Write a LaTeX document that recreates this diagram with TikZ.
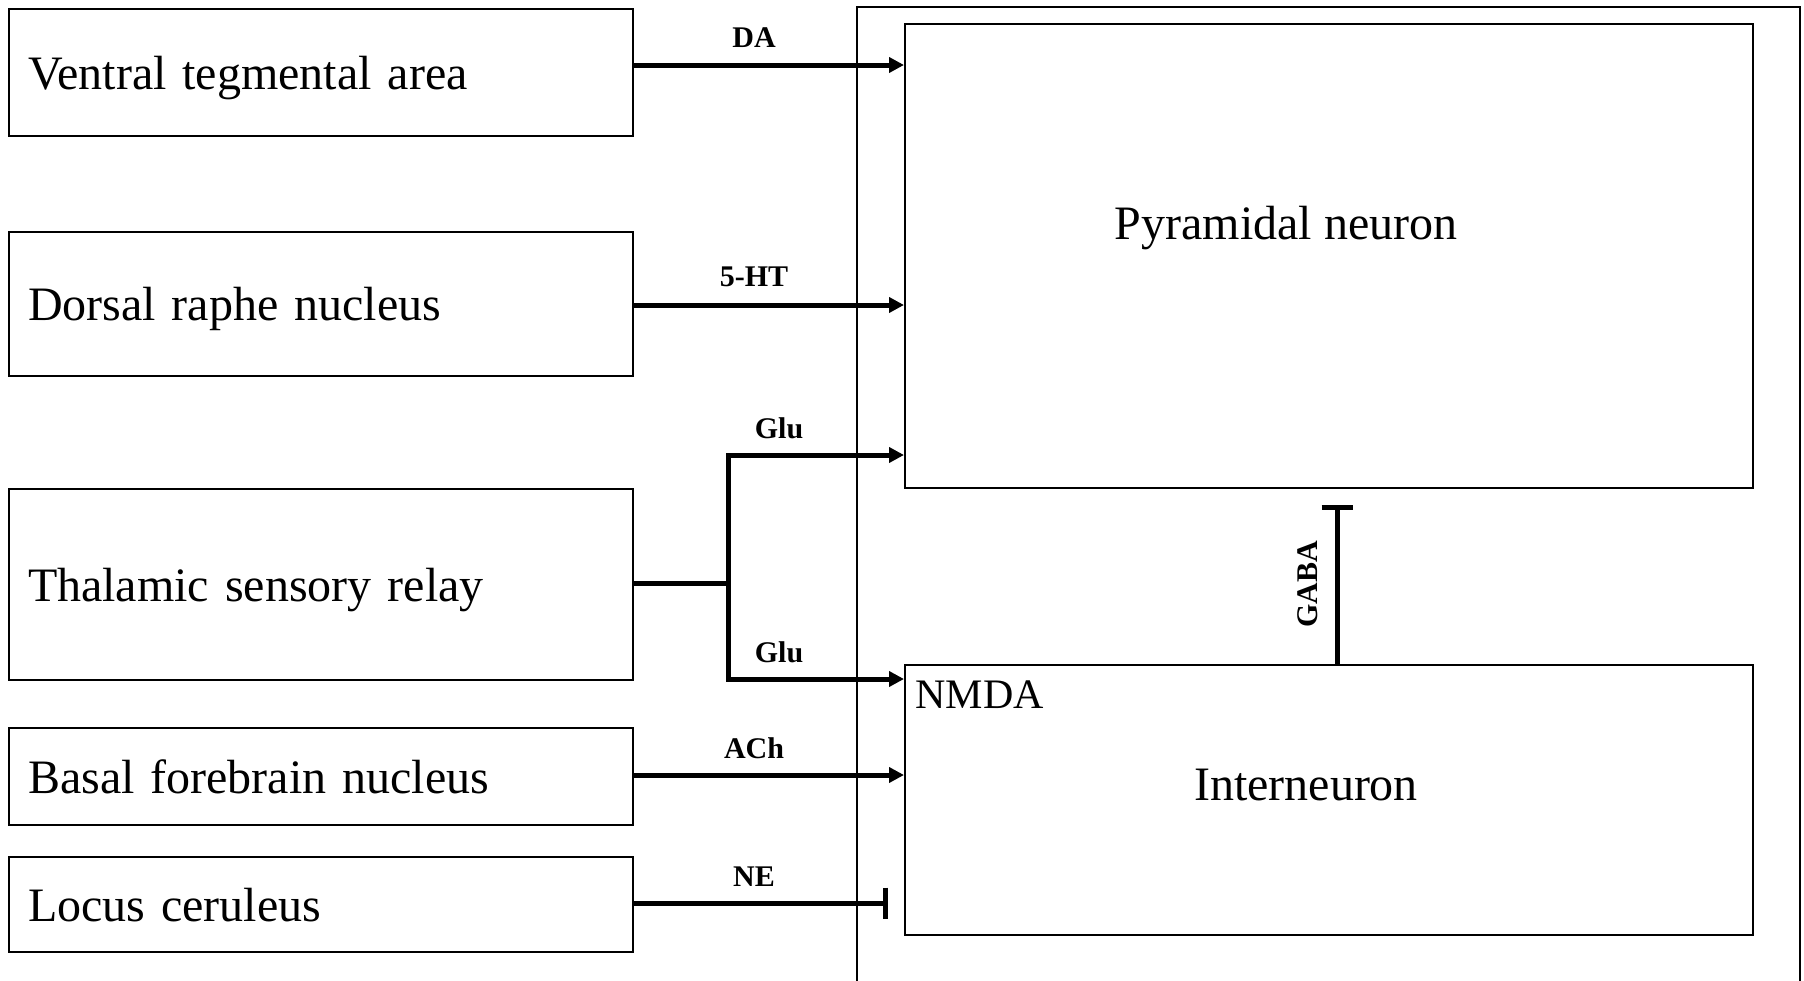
\documentclass[tikz,border=0pt]{standalone}
\usepackage{fontspec}
\setmainfont{Liberation Serif}
\usetikzlibrary{arrows.meta,calc}
\begin{document}
\begin{tikzpicture}[x=0.5pt,y=-0.5pt,
  srcbox/.style={draw,line width=1pt,minimum width=312pt,text width=293pt,inner xsep=9.5pt,align=left,text depth=0pt,font=\fontsize{24}{28}\selectfont,anchor=north west},
  cellbox/.style={draw,line width=1pt,minimum width=424pt,anchor=north west,inner sep=0pt},
  big/.style={font=\fontsize{24}{28}\selectfont,text depth=0pt},
  lbl/.style={font=\bfseries\fontsize{15}{18}\selectfont},
  arr/.style={line width=2.5pt,-{Triangle[length=7.5pt,width=7.5pt]}},
  inh/.style={line width=2.5pt,-{Bar[width=15.5pt,line width=2.5pt]}},
  thk/.style={line width=2.5pt}]
\useasboundingbox (0,0) rectangle (1804,980);
% outer box (open at bottom)
\draw[line width=1pt] (857,990) -- (857,7) -- (1800,7) -- (1800,990);
% cells
\node[cellbox,minimum height=232pt] (pyr) at (904,23) {};
\node[cellbox,minimum height=135pt] (int) at (904,664) {};
\node[big] (pyrt) at (1286,223) {Pyramidal neuron};
\node[big] (intt) at (1306,785) {Interneuron};
\node[font=\fontsize{21}{25}\selectfont,anchor=west,inner sep=0pt] (nmda) at (915,695) {NMDA};
% sources
\node[srcbox,minimum height=63.5pt] (b1) at (8,8) {Ventral tegmental area};
\node[srcbox,minimum height=72pt] (b2) at (8,231) {Dorsal raphe nucleus};
\node[srcbox,minimum height=95.5pt] (b3) at (8,488) {Thalamic sensory relay};
\node[srcbox,minimum height=48.5pt] (b4) at (8,727) {Basal forebrain nucleus};
\node[srcbox,minimum height=47.5pt] (b5) at (8,856) {Locus ceruleus};
% connectors
\draw[arr] (b1.east|-0,65) -- (pyr.west|-0,65);
\draw[arr] (b2.east|-0,305) -- (pyr.west|-0,305);
\coordinate (fork) at (728,583);
\draw[thk] (b3.east|-fork) -- (fork);
\draw[arr] (fork) -- (728,455) -- (pyr.west|-0,455);
\draw[arr] (fork) -- (728,679) -- (int.west|-0,679);
\draw[arr] (b4.east|-0,775) -- (int.west|-0,775);
\draw[inh,shorten >=8pt] (b5.east|-0,903) -- (int.west|-0,903);
\draw[inh,shorten >=8pt] (int.north-|1337,0) -- (pyr.south-|1337,0);
% labels
\node[lbl] (lda) at (754,38) {DA};
\node[lbl] (lht) at (754,277) {5-HT};
\node[lbl] (lg1) at (779,428) {Glu};
\node[lbl] (lg2) at (779,652) {Glu};
\node[lbl] (lach) at (754,748) {ACh};
\node[lbl] (lne) at (754,877) {NE};
\node[lbl,rotate=90] (lgaba) at (1308,584) {GABA};
\end{tikzpicture}
\end{document}
